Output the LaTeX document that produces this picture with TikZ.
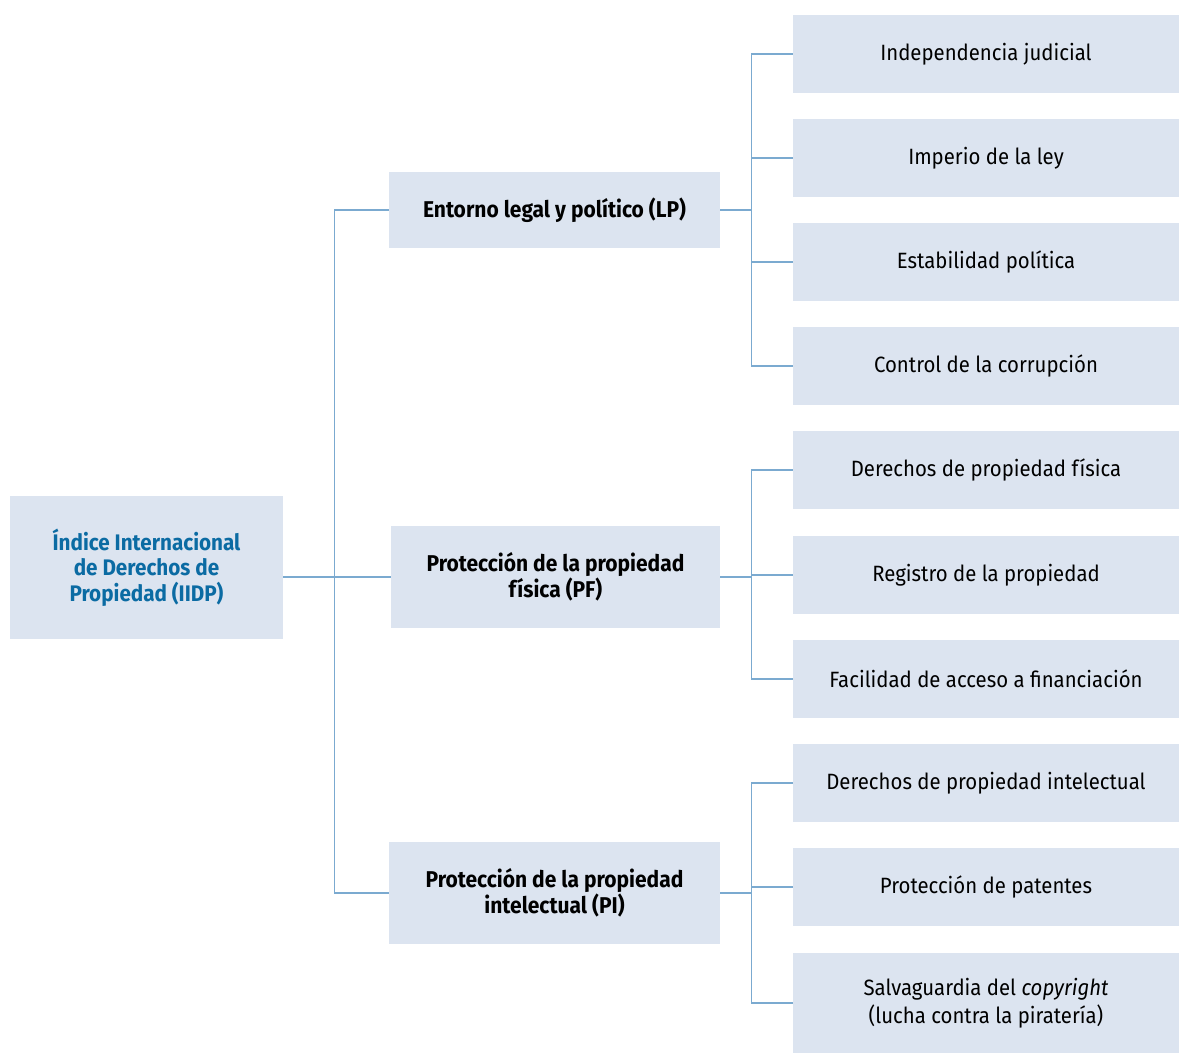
\documentclass[tikz,border=0pt]{standalone}
\usepackage{fontspec}
\setmainfont{Fira Sans}[FakeStretch=0.92]
\definecolor{boxfill}{HTML}{DCE4F0}
\definecolor{linkblue}{HTML}{7BAAD0}
\definecolor{titleblue}{HTML}{0B6BA3}

\begin{document}
\begin{tikzpicture}[x=0.02cm, y=-0.02cm, font=\fontsize{12}{15}\selectfont,
  root/.style={fill=boxfill, minimum width=5.46cm, minimum height=2.86cm, align=center,
    text=titleblue, font=\fontsize{12.8}{14.5}\selectfont\bfseries},
  pillar/.style={fill=boxfill, minimum width=6.62cm, minimum height=2.04cm, align=center,
    font=\fontsize{13}{14.7}\selectfont\bfseries},
  leaf/.style={fill=boxfill, minimum width=7.72cm, minimum height=1.56cm, align=center,
    font=\fontsize{12.6}{16}\selectfont},
  link/.style={draw=linkblue, line width=0.8pt}]

\useasboundingbox (0,0) rectangle (1179,1053);

%% ===================== index =====================
\node[root] (iidp) at (146.5,567.5)
  {Índice Internacional\\de Derechos de\\Propiedad (IIDP)};

%% ===================== three pillars =====================
\node[pillar, minimum height=1.52cm] (lp) at (554.5,210) {Entorno legal y político (LP)};
\node[pillar, minimum width=6.58cm] (pf) at (555.5,577) {Protección de la propiedad\\física (PF)};
\node[pillar] (pi) at (554.5,893) {Protección de la propiedad\\intelectual (PI)};

%% ===================== components =====================
\node[leaf] (ind) at (986,54)  {Independencia judicial};
\node[leaf] (imp) at (986,158) {Imperio de la ley};
\node[leaf] (est) at (986,262) {Estabilidad política};
\node[leaf] (cor) at (986,366) {Control de la corrupción};

\node[leaf] (dpf) at (986,470) {Derechos de propiedad física};
\node[leaf] (reg) at (986,575) {Registro de la propiedad};
\node[leaf] (fin) at (986,679) {Facilidad de acceso a financiación};

\node[leaf] (dpi) at (986,783) {Derechos de propiedad intelectual};
\node[leaf] (pat) at (986,887) {Protección de patentes};
\node[leaf, minimum height=2.0cm] (cop) at (986,1003)
  {Salvaguardia del \textit{copyright}\\(lucha contra la piratería)};

%% ===================== connectors =====================
\draw[link] (iidp.east |- pf.west) -- (pf.west);
\draw[link] (lp.west) -- ++(-54,0) |- (pi.west);

\foreach \c in {ind,imp,est,cor}{\draw[link] (lp.east) -- ++(31,0) |- (\c.west);}
\foreach \c in {dpf,reg,fin}{\draw[link] (pf.east) -- ++(31,0) |- (\c.west);}
\foreach \c in {dpi,pat,cop}{\draw[link] (pi.east) -- ++(31,0) |- (\c.west);}

\end{tikzpicture}
\end{document}
